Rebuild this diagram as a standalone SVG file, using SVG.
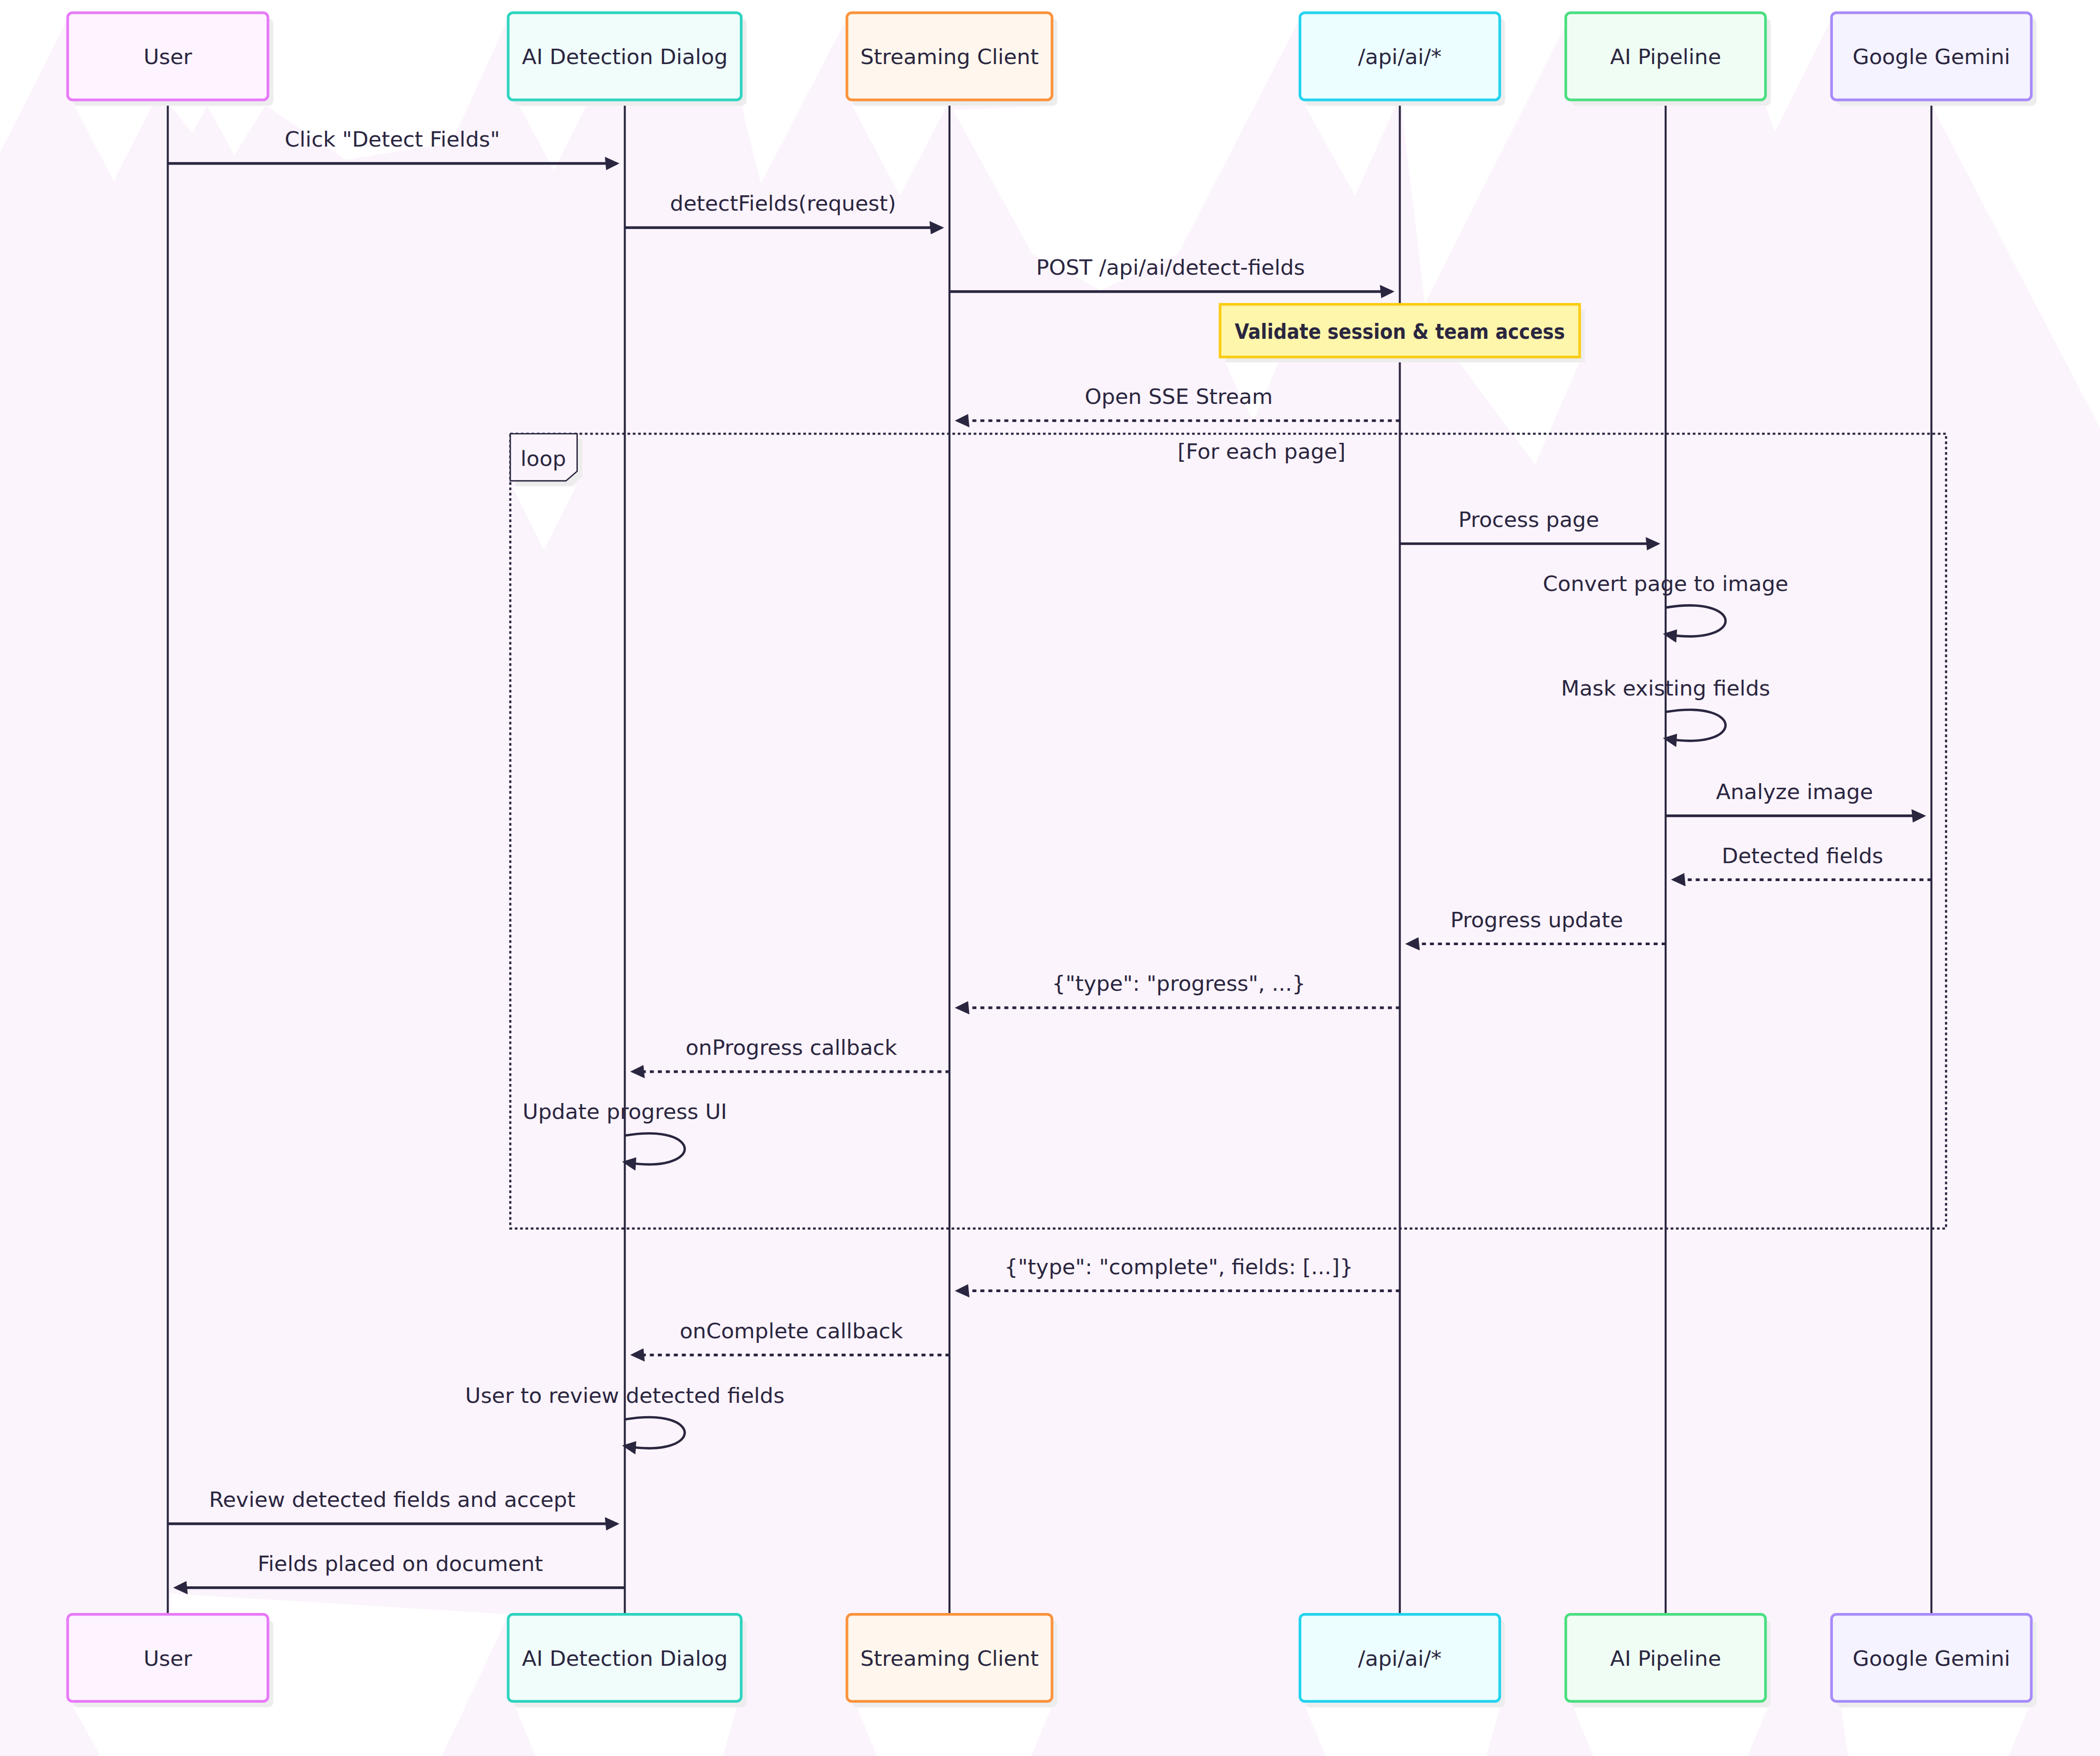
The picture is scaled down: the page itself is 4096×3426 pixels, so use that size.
<svg xmlns="http://www.w3.org/2000/svg" width="4096" height="3426" viewBox="0 0 4096 3426">
<defs>
<style>
.bgw{fill:#ffffff}
.shadow{fill:#ededed}
.box{stroke-width:10}
.t{font-family:"DejaVu Sans","Liberation Sans",sans-serif;font-size:80px;fill:#2a2640;text-anchor:middle}
.tb{font-family:"DejaVu Sans","Liberation Sans",sans-serif;font-size:80px;font-weight:bold;fill:#2a2640;text-anchor:middle}
.life{stroke:#2a2640;stroke-width:7.5;fill:none}
.msg{stroke:#2a2640;stroke-width:10;fill:none;marker-end:url(#ah)}
.self{stroke:#2a2640;stroke-width:9;fill:none;marker-end:url(#ah)}
.dot{stroke-dasharray:15 15}
.loopf{fill:none;stroke:#2a2640;stroke-width:8;stroke-dasharray:10 10}
</style>
<marker id="ah" markerUnits="userSpaceOnUse" viewBox="-5 0 55 50" markerWidth="55" markerHeight="50" refX="39.5" refY="25" orient="auto">
<path d="M -5 0 L 50 25 L 0 50 z" fill="#2a2640"/>
</marker>
</defs>
<g transform="scale(0.51947)">
<g id="background">
<rect x="0" y="0" width="7885" height="6595" fill="#fcf4fc"/>
<rect class="bgw" x="0" y="0" width="7885" height="50"/>
<polygon class="bgw" points="0,0 255,0 255,69 0,574"/>
<polygon class="bgw" points="280,398 427,680 570,398"/>
<polygon class="bgw" points="640,398 723,500 778,398"/>
<polygon class="bgw" points="778,398 880,582 995,398"/>
<polygon class="bgw" points="1008,0 1908,0 1908,69 1696,536 1300,600 1000,398"/>
<polygon class="bgw" points="1950,398 2080,640 2200,398"/>
<polygon class="bgw" points="2786,0 3180,0 3180,69 2857,689 2790,420"/>
<polygon class="bgw" points="3200,398 3379,735 3555,398"/>
<polygon class="bgw" points="3951,0 4881,0 4881,69 4424,953 4133,1090 3876,953 3578,413 3951,398"/>
<polygon class="bgw" points="4900,398 5088,735 5240,398"/>
<polygon class="bgw" points="5631,0 5879,0 5879,92 5350,1140 5262,398 5631,398"/>
<polygon class="bgw" points="6629,0 6877,0 6877,69 6665,494 6629,398"/>
<polygon class="bgw" points="7627,0 7885,0 7885,1607 7254,398 7627,398"/>
<polygon class="bgw" points="4600,1362 4706,1584 4800,1362"/>
<polygon class="bgw" points="5480,1362 5764,1745 5930,1362"/>
<polygon class="bgw" points="1924,1827 2041,2066 2164,1827"/>
<polygon class="bgw" points="640,5985 1911,6063 1659,6595 377,6595 277,6414 640,6063"/>
<polygon class="bgw" points="1936,6414 2765,6414 2715,6595 2011,6595"/>
<polygon class="bgw" points="3218,6414 3947,6414 3872,6595 3293,6595"/>
<polygon class="bgw" points="4902,6414 5631,6414 5581,6595 4978,6595"/>
<polygon class="bgw" points="5908,6414 6637,6414 6562,6595 5983,6595"/>
<polygon class="bgw" points="6913,6414 7617,6414 7542,6595 6939,6595"/>
</g>
<g id="lifelines">
<line class="life" x1="630" y1="375" x2="630" y2="6063"/>
<line class="life" x1="2346" y1="375" x2="2346" y2="6063"/>
<line class="life" x1="3565" y1="375" x2="3565" y2="6063"/>
<line class="life" x1="5256" y1="375" x2="5256" y2="6063"/>
<line class="life" x1="6254" y1="375" x2="6254" y2="6063"/>
<line class="life" x1="7252" y1="375" x2="7252" y2="6063"/>
</g>
<g id="actor-user-top">
<rect class="shadow" x="274" y="70" width="752" height="327" rx="18"/>
<rect class="box" x="254" y="48" width="752" height="327" rx="18" fill="#fdf4ff" stroke="#e879f9"/>
<text class="t" x="630" y="240">User</text>
</g>
<g id="actor-dialog-top">
<rect class="shadow" x="1928" y="70" width="875" height="327" rx="18"/>
<rect class="box" x="1908" y="48" width="875" height="327" rx="18" fill="#f0fdfa" stroke="#2dd4bf"/>
<text class="t" x="2346" y="240">AI Detection Dialog</text>
</g>
<g id="actor-client-top">
<rect class="shadow" x="3200" y="70" width="770" height="327" rx="18"/>
<rect class="box" x="3180" y="48" width="770" height="327" rx="18" fill="#fff7ed" stroke="#fb923c"/>
<text class="t" x="3565" y="240">Streaming Client</text>
</g>
<g id="actor-api-top">
<rect class="shadow" x="4901" y="70" width="750" height="327" rx="18"/>
<rect class="box" x="4881" y="48" width="750" height="327" rx="18" fill="#ecfeff" stroke="#22d3ee"/>
<text class="t" x="5256" y="240">/api/ai/*</text>
</g>
<g id="actor-pipeline-top">
<rect class="shadow" x="5899" y="70" width="750" height="327" rx="18"/>
<rect class="box" x="5879" y="48" width="750" height="327" rx="18" fill="#f0fdf4" stroke="#4ade80"/>
<text class="t" x="6254" y="240">AI Pipeline</text>
</g>
<g id="actor-gemini-top">
<rect class="shadow" x="6897" y="70" width="750" height="327" rx="18"/>
<rect class="box" x="6877" y="48" width="750" height="327" rx="18" fill="#f5f3ff" stroke="#a78bfa"/>
<text class="t" x="7252" y="240">Google Gemini</text>
</g>
<g id="actor-user-bottom">
<rect class="shadow" x="274" y="6085" width="752" height="327" rx="18"/>
<rect class="box" x="254" y="6063" width="752" height="327" rx="18" fill="#fdf4ff" stroke="#e879f9"/>
<text class="t" x="630" y="6256">User</text>
</g>
<g id="actor-dialog-bottom">
<rect class="shadow" x="1928" y="6085" width="875" height="327" rx="18"/>
<rect class="box" x="1908" y="6063" width="875" height="327" rx="18" fill="#f0fdfa" stroke="#2dd4bf"/>
<text class="t" x="2346" y="6256">AI Detection Dialog</text>
</g>
<g id="actor-client-bottom">
<rect class="shadow" x="3200" y="6085" width="770" height="327" rx="18"/>
<rect class="box" x="3180" y="6063" width="770" height="327" rx="18" fill="#fff7ed" stroke="#fb923c"/>
<text class="t" x="3565" y="6256">Streaming Client</text>
</g>
<g id="actor-api-bottom">
<rect class="shadow" x="4901" y="6085" width="750" height="327" rx="18"/>
<rect class="box" x="4881" y="6063" width="750" height="327" rx="18" fill="#ecfeff" stroke="#22d3ee"/>
<text class="t" x="5256" y="6256">/api/ai/*</text>
</g>
<g id="actor-pipeline-bottom">
<rect class="shadow" x="5899" y="6085" width="750" height="327" rx="18"/>
<rect class="box" x="5879" y="6063" width="750" height="327" rx="18" fill="#f0fdf4" stroke="#4ade80"/>
<text class="t" x="6254" y="6256">AI Pipeline</text>
</g>
<g id="actor-gemini-bottom">
<rect class="shadow" x="6897" y="6085" width="750" height="327" rx="18"/>
<rect class="box" x="6877" y="6063" width="750" height="327" rx="18" fill="#f5f3ff" stroke="#a78bfa"/>
<text class="t" x="7252" y="6256">Google Gemini</text>
</g>
<g id="note-validate">
<rect class="shadow" x="4601" y="1163" width="1350" height="198"/>
<rect x="4581" y="1143" width="1350" height="198" fill="#fef6ab" stroke="#facc15" stroke-width="10"/>
<text class="tb" x="5256" y="1272" textLength="1240" lengthAdjust="spacingAndGlyphs">Validate session &amp; team access</text>
</g>
<g id="loop-frame">
<rect class="loopf" x="1916" y="1629" width="5391" height="2985"/>
<polygon class="shadow" points="1936,1649 2187,1649 2187,1790 2145,1826 1936,1826"/>
<polygon points="1916,1629 2167,1629 2167,1770 2125,1806 1916,1806" fill="#fcf4fc" stroke="#2a2640" stroke-width="5"/>
<text class="t" x="2040" y="1750">loop</text>
<text class="t" x="4737" y="1722">[For each page]</text>
</g>
<g id="connectors">
<line class="msg" x1="630" y1="614" x2="2315.5" y2="614"/>
<line class="msg" x1="2346" y1="855" x2="3534.5" y2="855"/>
<line class="msg" x1="3565" y1="1095" x2="5225.5" y2="1095"/>
<line class="msg dot" x1="5256" y1="1580" x2="3595.5" y2="1580"/>
<line class="msg" x1="5256" y1="2042" x2="6223.5" y2="2042"/>
<path class="self" d="M 6254 2282 C 6554 2232 6554 2432 6254 2382"/>
<path class="self" d="M 6254 2674 C 6554 2624 6554 2824 6254 2774"/>
<line class="msg" x1="6254" y1="3064" x2="7221.5" y2="3064"/>
<line class="msg dot" x1="7252" y1="3304" x2="6284.5" y2="3304"/>
<line class="msg dot" x1="6254" y1="3545" x2="5286.5" y2="3545"/>
<line class="msg dot" x1="5256" y1="3785" x2="3595.5" y2="3785"/>
<line class="msg dot" x1="3565" y1="4025" x2="2376.5" y2="4025"/>
<path class="self" d="M 2346 4265 C 2646 4215 2646 4415 2346 4365"/>
<line class="msg dot" x1="5256" y1="4848" x2="3595.5" y2="4848"/>
<line class="msg dot" x1="3565" y1="5089" x2="2376.5" y2="5089"/>
<path class="self" d="M 2346 5331 C 2646 5281 2646 5481 2346 5431"/>
<line class="msg" x1="630" y1="5723" x2="2315.5" y2="5723"/>
<line class="msg" x1="2346" y1="5963" x2="660.5" y2="5963"/>
</g>
<g id="message-labels">
<text class="t" x="1473" y="551">Click "Detect Fields"</text>
<text class="t" x="2940" y="792">detectFields(request)</text>
<text class="t" x="4395" y="1032">POST /api/ai/detect-fields</text>
<text class="t" x="4426" y="1517">Open SSE Stream</text>
<text class="t" x="5740" y="1979">Process page</text>
<text class="t" x="6254" y="2220">Convert page to image</text>
<text class="t" x="6254" y="2612">Mask existing fields</text>
<text class="t" x="6738" y="3001">Analyze image</text>
<text class="t" x="6768" y="3241">Detected fields</text>
<text class="t" x="5770" y="3482">Progress update</text>
<text class="t" x="4426" y="3722">{"type": "progress", ...}</text>
<text class="t" x="2971" y="3962">onProgress callback</text>
<text class="t" x="2346" y="4203">Update progress UI</text>
<text class="t" x="4426" y="4785">{"type": "complete", fields: [...]}</text>
<text class="t" x="2971" y="5026">onComplete callback</text>
<text class="t" x="2346" y="5269">User to review detected fields</text>
<text class="t" x="1473" y="5660">Review detected fields and accept</text>
<text class="t" x="1503" y="5900">Fields placed on document</text>
</g>
</g>
</svg>
